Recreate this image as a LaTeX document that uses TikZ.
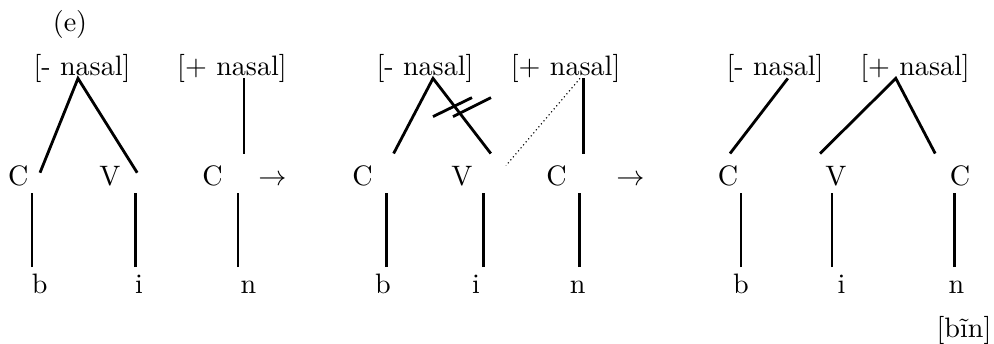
\documentclass[tikz,border=0pt]{standalone}
\usepackage{tikz}
\usetikzlibrary{calc}

\begin{document}
\begin{tikzpicture}[
  lbl/.style={inner sep=0pt, anchor=base},
  feat/.style={lbl, text depth=1pt},
  slot/.style={lbl, text height=11pt, text depth=2.8pt},
  seg/.style={lbl, text height=9pt},
  assoc/.style={line width=1pt},
  delink/.style={densely dotted, line width=0.4pt},
]
\useasboundingbox (0,0) rectangle (12.425,4.2875);
\node[lbl] (tag) at (0.875,3.9) {(e)};

\node[feat] (nasA) at (1.025,3.35) {[- nasal]};
\node[feat] (nasB) at (2.9,3.35) {[+ nasal]};
\node[slot] (cA) at (0.23,1.975) {C};
\node[slot] (vA) at (1.375,1.975) {V};
\node[slot] (cB) at (2.655,1.975) {C};
\node[slot] (arrA) at (3.405,1.975) {$\rightarrow$};
\node[seg] (bA) at (0.495,0.625) {b};
\node[seg] (iA) at (1.7375,0.625) {i};
\node[seg] (nA) at (3.105,0.625) {n};
\draw[assoc] ([xshift=.27cm,yshift=-.24cm]cA.north) -- ([xshift=-.05cm]nasA.south)
  -- ([xshift=.34cm,yshift=-.24cm]vA.north);
\draw[assoc] ([xshift=.15cm]nasB.south) -- ([xshift=.15cm]nasB.south |- cB.north);
\draw[assoc] ([xshift=-.095cm]bA.north) -- ([xshift=-.095cm]bA.north |- cA.south);
\draw[assoc] ([xshift=-.04cm]iA.north) -- ([xshift=-.04cm]iA.north |- vA.south);
\draw[assoc] ([xshift=-.13cm]nA.north) -- ([xshift=-.13cm]nA.north |- cB.south);

\node[feat] (nasC) at (5.3125,3.35) {[- nasal]};
\node[feat] (nasD) at (7.07,3.35) {[+ nasal]};
\node[slot] (cC) at (4.53,1.975) {C};
\node[slot] (vC) at (5.775,1.975) {V};
\node[slot] (cD) at (6.955,1.975) {C};
\node[slot] (arrB) at (7.88,1.975) {$\rightarrow$};
\node[seg] (bC) at (4.7875,0.625) {b};
\node[seg] (iC) at (5.95,0.625) {i};
\node[seg] (nC) at (7.22,0.625) {n};
\draw[assoc] ([xshift=.39cm]cC.north) -- ([xshift=.1cm]nasC.south)
  -- ([xshift=.36cm]vC.north);
\draw[assoc] ($(nasC.south)+(.1,-.4775)$) -- ++(.4875,.2375);
\draw[assoc] ($(nasC.south)+(.35,-.4775)$) -- ++(.475,.2375);
\draw[delink] ([xshift=.18cm]nasD.south) -- ([xshift=.55cm,yshift=-.15cm]vC.north);
\draw[assoc] ([xshift=.22cm]nasD.south) -- ([xshift=.22cm]nasD.south |- cD.north);
\draw[assoc] ([xshift=.04cm]bC.north) -- ([xshift=.04cm]bC.north |- cC.south);
\draw[assoc] ([xshift=.09cm]iC.north) -- ([xshift=.09cm]iC.north |- vC.south);
\draw[assoc] ([xshift=.02cm]nC.north) -- ([xshift=.02cm]nC.north |- cD.south);

\node[feat] (nasE) at (9.6875,3.35) {[- nasal]};
\node[feat] (nasF) at (11.4375,3.35) {[+ nasal]};
\node[slot] (cE) at (9.1,1.975) {C};
\node[slot] (vE) at (10.45,1.975) {V};
\node[slot] (cF) at (12.0,1.975) {C};
\node[seg] (bE) at (9.2625,0.625) {b};
\node[seg] (iE) at (10.52,0.625) {i};
\node[seg] (nE) at (11.955,0.625) {n};
\node[lbl] (form) at (12.05,0.075) {[b\~{\i}n]};
\draw[assoc] ([xshift=.16cm]nasE.south) -- ([xshift=.025cm]cE.north);
\draw[assoc] ([xshift=-.2cm]vE.north) -- ([xshift=-.24cm]nasF.south)
  -- ([xshift=-.31cm]cF.north);
\draw[assoc] (bE.north) -- (bE.north |- cE.south);
\draw[assoc] ([xshift=-.12cm]iE.north) -- ([xshift=-.12cm]iE.north |- vE.south);
\draw[assoc] ([xshift=-.02cm]nE.north) -- ([xshift=-.02cm]nE.north |- cF.south);
\end{tikzpicture}
\end{document}
